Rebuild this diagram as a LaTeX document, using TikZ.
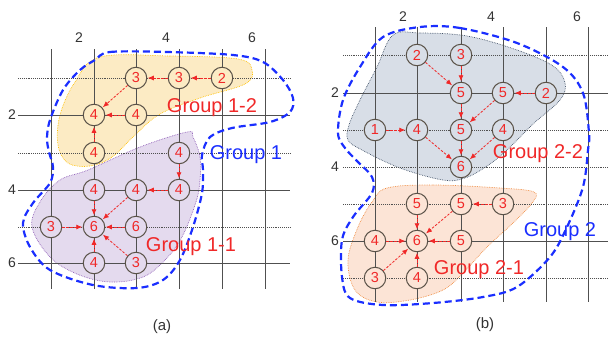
\documentclass[tikz,border=0pt]{standalone}
\usepackage{fontspec}
\setmainfont{Liberation Sans}
\usetikzlibrary{arrows.meta}
\definecolor{gridc}{HTML}{505050}
\definecolor{nodeb}{HTML}{5A5248}
\definecolor{numred}{HTML}{F02828}
\definecolor{yfill}{HTML}{FCEBC4}
\definecolor{ydraw}{HTML}{FFC000}
\definecolor{pfill}{HTML}{E4DAEE}
\definecolor{pdraw}{HTML}{9060B8}
\definecolor{gfill}{HTML}{D8DEE7}
\definecolor{gdraw}{HTML}{44546A}
\definecolor{ofill}{HTML}{FCE4D6}
\definecolor{odraw}{HTML}{F08C40}
\definecolor{grpblue}{HTML}{1A2EFF}
\definecolor{axisc}{HTML}{333333}
\tikzset{
  nd/.style={circle, draw=nodeb, line width=1pt, minimum size=21.5pt, inner sep=0pt, text=numred, font=\fontsize{14.5}{14.5}\selectfont},
  ny/.style={nd, fill=yfill},
  np/.style={nd, fill=pfill},
  ng/.style={nd, fill=gfill},
  no/.style={nd, fill=ofill},
  ar/.style={-{Latex[length=6pt,width=5pt]}, numred, dash pattern=on 2.5pt off 1.5pt, line width=0.8pt, shorten >=0.5pt},
  gline/.style={gridc, line width=0.8pt},
  gdot/.style={gridc, line width=0.9pt, dash pattern=on 1pt off 0.9pt},
  grp/.style={grpblue, line width=2.2pt, dash pattern=on 7pt off 4pt},
  glab/.style={font=\fontsize{20}{20}\selectfont},
  axl/.style={text=axisc, font=\fontsize{14}{14}\selectfont},
}
\begin{document}
\begin{tikzpicture}[x=1pt,y=-1pt]
\useasboundingbox (0,0) rectangle (608,338);
% ---------- regions (a) ----------
\filldraw[fill=yfill, draw=ydraw, densely dotted, line width=0.7pt] plot[smooth cycle, tension=0.6] coordinates {
 (100,57) (170,56) (238,59) (252,70) (245,84) (200,98) (160,114) (135,135) (112,157) (90,166) (68,163) (58,145) (60,115) (75,82)};
\filldraw[fill=pfill, draw=pdraw, densely dotted, line width=0.7pt] plot[smooth cycle, tension=0.6] coordinates {
 (88,170) (140,147) (187,132) (193,137) (200,157) (200,180) (196,202) (182,237) (165,260) (143,277) (110,282) (77,274) (50,257) (32,227) (40,202) (60,180)};
% ---------- regions (b) ----------
\filldraw[fill=gfill, draw=gdraw, densely dotted, line width=0.7pt] plot[smooth cycle, tension=0.6] coordinates {
 (393,35) (420,33) (467,36) (517,50) (553,66) (565,83) (560,100) (533,124) (507,150) (487,166) (465,178) (443,180) (400,168) (362,150) (348,140) (349,125) (360,100) (377,67)};
\filldraw[fill=ofill, draw=odraw, densely dotted, line width=0.7pt] plot[smooth cycle, tension=0.6] coordinates {
 (387,188) (433,185) (500,188) (534,192) (532,203) (513,223) (487,247) (463,273) (443,290) (410,300) (377,302) (355,290) (348,260) (358,227) (372,202)};
% ---------- grids ----------
\foreach \x in {51,94,136,179,222,265} \draw[gline] (\x,49) -- (\x,289);
\foreach \y in {78,153,227} \draw[gdot] (18,\y) -- (290,\y);
\foreach \y in {115,190,263} \draw[gline] (18,\y) -- (290,\y);
\foreach \x in {375,417,461,503,546,588} \draw[gline] (\x,27) -- (\x,302);
\foreach \y in {55,130,167,204,278} \draw[gdot] (343,\y) -- (608,\y);
\foreach \y in {93,241} \draw[gline] (343,\y) -- (608,\y);
% axis labels
\node[axl] at (79,38) {2};
\node[axl] at (166,38) {4};
\node[axl] at (252,38) {6};
\node[axl] at (12,115) {2};
\node[axl] at (12,190) {4};
\node[axl] at (12,263) {6};
\node[axl] at (403,17) {2};
\node[axl] at (491,17) {4};
\node[axl] at (577,17) {6};
\node[axl] at (335,93) {2};
\node[axl] at (335,167) {4};
\node[axl] at (335,241) {6};
% ---------- group outlines ----------
\draw[grp] plot[smooth cycle, tension=0.55] coordinates {
 (95,60) (110,52) (167,52) (233,55) (263,62) (283,80) (293,98) (290,112) (270,122) (232,128) (210,137) (202,155) (203,170) (202,193) (193,227) (180,260) (163,280) (137,288) (93,285) (50,270) (30,247) (23,223) (33,203) (50,183) (53,167) (49,152) (47,138) (50,120) (63,90) (80,70)};
\draw[grp] plot[smooth cycle, tension=0.55] coordinates {
 (420,27) (460,28) (517,43) (563,67) (583,93) (589,133) (588,150) (583,187) (567,227) (550,257) (517,287) (483,297) (433,303) (383,305) (350,298) (342,277) (342,240) (353,217) (372,193) (372,177) (358,162) (345,148) (338,133) (343,100) (360,67) (383,37)};
% ---------- nodes (a) ----------
\node[ny] (a1) at (136,78) {3};
\node[ny] (a2) at (179,78) {3};
\node[ny] (a3) at (222,78) {2};
\node[ny] (a4) at (94,115) {4};
\node[ny] (a5) at (136,115) {4};
\node[ny] (a6) at (94,153) {4};
\node[np] (a7) at (179,153) {4};
\node[np] (a8) at (94,190) {4};
\node[np] (a9) at (136,190) {4};
\node[np] (a10) at (179,190) {4};
\node[np] (a11) at (51,227) {3};
\node[np] (a12) at (94,227) {6};
\node[np] (a13) at (136,227) {6};
\node[np] (a14) at (94,263) {4};
\node[np] (a15) at (136,263) {3};
\draw[ar] (a3) -- (a2);
\draw[ar] (a2) -- (a1);
\draw[ar] (a1) -- (a4);
\draw[ar] (a5) -- (a4);
\draw[ar] (a6) -- (a4);
\draw[ar] (a7) -- (a10);
\draw[ar] (a10) -- (a9);
\draw[ar] (a8) -- (a12);
\draw[ar] (a9) -- (a12);
\draw[ar] (a11) -- (a12);
\draw[ar] (a13) -- (a12);
\draw[ar] (a14) -- (a12);
\draw[ar] (a15) -- (a12);
% ---------- nodes (b) ----------
\node[ng] (b1) at (417,55) {2};
\node[ng] (b2) at (461,55) {3};
\node[ng] (b3) at (461,93) {5};
\node[ng] (b4) at (503,93) {5};
\node[ng] (b5) at (546,93) {2};
\node[ng] (b6) at (375,130) {1};
\node[ng] (b7) at (417,130) {4};
\node[ng] (b8) at (461,130) {5};
\node[ng] (b9) at (503,130) {4};
\node[ng] (b10) at (461,167) {6};
\node[no] (b11) at (417,204) {5};
\node[no] (b12) at (461,204) {5};
\node[no] (b13) at (503,204) {3};
\node[no] (b14) at (375,241) {4};
\node[no] (b15) at (417,241) {6};
\node[no] (b16) at (461,241) {5};
\node[no] (b17) at (375,278) {3};
\node[no] (b18) at (417,278) {4};
\draw[ar] (b1) -- (b3);
\draw[ar] (b2) -- (b3);
\draw[ar] (b5) -- (b4);
\draw[ar] (b4) -- (b8);
\draw[ar] (b3) -- (b8);
\draw[ar] (b6) -- (b7);
\draw[ar] (b7) -- (b10);
\draw[ar] (b8) -- (b10);
\draw[ar] (b9) -- (b10);
\draw[ar] (b13) -- (b12);
\draw[ar] (b11) -- (b15);
\draw[ar] (b12) -- (b15);
\draw[ar] (b14) -- (b15);
\draw[ar] (b16) -- (b15);
\draw[ar] (b17) -- (b15);
\draw[ar] (b18) -- (b15);
% ---------- labels ----------
\node[glab, text=numred] at (212,108) {Group 1-2};
\node[glab, text=grpblue] at (246,155) {Group 1};
\node[glab, text=numred] at (191,247) {Group 1-1};
\node[glab, text=numred] at (538,154) {Group 2-2};
\node[glab, text=grpblue] at (560,232) {Group 2};
\node[glab, text=numred] at (479,270) {Group 2-1};
\node[axl, font=\fontsize{15}{15}\selectfont] at (162,327) {(a)};
\node[axl, font=\fontsize{15}{15}\selectfont] at (485,325) {(b)};
\end{tikzpicture}
\end{document}
